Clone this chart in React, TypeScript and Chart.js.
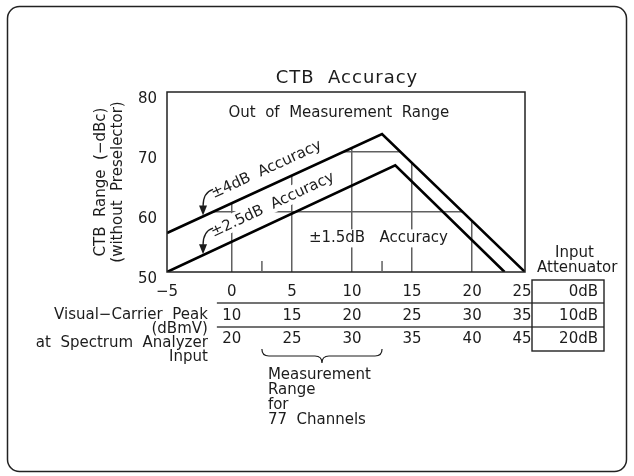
import React, { useEffect, useRef } from "react";
import { Chart, registerables } from "chart.js";

Chart.register(...registerables);

// ---------- data ----------
const xTickValues = [-5, 0, 5, 10, 15, 20, 25];
const rowAtten0dB = ["−5", "0", "5", "10", "15", "20", "25"];
const rowAtten10dB = ["", "10", "15", "20", "25", "30", "35"];
const rowAtten20dB = ["", "20", "25", "30", "35", "40", "45"];
const attenuatorLabels = ["0dB", "10dB", "20dB"];
const yTickValues = [50, 60, 70, 80];
const gridXValues = [0, 5, 10, 15, 20];
const gridYValues = [60, 70];
const measurementRange = [2.5, 12.5];
const measurementText = ["Measurement", "Range", "for", "77  Channels"];
const leftRowTitle = ["Visual−Carrier  Peak", "(dBmV)", "at  Spectrum  Analyzer", "Input"];

// ±4 dB boundary (outer envelope) and ±2.5 dB boundary
const upperX = [-5.4, 12.5, 24.4];
const upperY = [56.5, 73, 50];
const lowerX = [-5.4, 13.6, 22.7];
const lowerY = [50, 67.8, 50];

const X_MIN = -5.4;
const X_MAX = 24.4;

const FONT = '"DejaVu Sans", sans-serif';
const TEXT = "#1c1c1c";
const GRID = "#606060";
const LINE = "#000000";

function lineYAt(xs: number[], ys: number[], x: number) {
  for (let i = 0; i < xs.length - 1; i++) {
    if (x >= xs[i] && x <= xs[i + 1]) {
      const t = (x - xs[i]) / (xs[i + 1] - xs[i]);
      return ys[i] + t * (ys[i + 1] - ys[i]);
    }
  }
  return ys[ys.length - 1];
}

function labelAlongLine(chart: any, text: string, xs: number[], ys: number[], startX: number, gap: number) {
  const { ctx, scales } = chart;
  const sx = scales.x, sy = scales.y;
  const px0 = sx.getPixelForValue(xs[0]), py0 = sy.getPixelForValue(ys[0]);
  const px1 = sx.getPixelForValue(xs[1]), py1 = sy.getPixelForValue(ys[1]);
  const ang = Math.atan2(py1 - py0, px1 - px0);
  const bx = sx.getPixelForValue(startX);
  const by = sy.getPixelForValue(lineYAt(xs, ys, startX));
  const ox = bx + Math.sin(ang) * gap;
  const oy = by - Math.cos(ang) * gap;
  ctx.save();
  ctx.translate(ox, oy);
  ctx.rotate(ang);
  ctx.font = `15px ${FONT}`;
  const m = ctx.measureText(text);
  ctx.fillStyle = "#fff";
  ctx.fillRect(-2, -m.actualBoundingBoxAscent - 2, m.width + 4, m.actualBoundingBoxAscent + m.actualBoundingBoxDescent + 3);
  ctx.fillStyle = TEXT;
  ctx.textAlign = "left";
  ctx.textBaseline = "alphabetic";
  ctx.fillText(text, 0, 0);
  ctx.restore();
}

function arrowTo(chart: any, xs: number[], ys: number[], atX: number) {
  const { ctx, scales } = chart;
  const tx = scales.x.getPixelForValue(atX);
  const ty = scales.y.getPixelForValue(lineYAt(xs, ys, atX));
  ctx.save();
  ctx.strokeStyle = TEXT;
  ctx.lineWidth = 1.3;
  ctx.beginPath();
  ctx.moveTo(tx + 10, ty - 27);
  ctx.quadraticCurveTo(tx, ty - 24, tx, ty - 10);
  ctx.stroke();
  ctx.fillStyle = TEXT;
  ctx.beginPath();
  ctx.moveTo(tx - 4, ty - 11);
  ctx.lineTo(tx + 4, ty - 11);
  ctx.lineTo(tx, ty - 1);
  ctx.closePath();
  ctx.fill();
  ctx.restore();
}

function text(ctx: any, s: string, x: number, y: number, align: CanvasTextAlign = "left", size = 15, bg = false) {
  ctx.save();
  ctx.font = `${size}px ${FONT}`;
  ctx.textAlign = align;
  ctx.textBaseline = "middle";
  if (bg) {
    const m = ctx.measureText(s);
    const w = m.width;
    const left = align === "center" ? x - w / 2 : align === "right" ? x - w : x;
    ctx.fillStyle = "#fff";
    ctx.fillRect(left - 2, y - size * 0.6, w + 4, size * 1.2);
  }
  ctx.fillStyle = TEXT;
  ctx.fillText(s, x, y);
  ctx.restore();
}

const decorPlugin = {
  id: "ctbDecor",
  beforeDraw(chart: any) {
    const { ctx } = chart;
    ctx.save();
    ctx.strokeStyle = "#222";
    ctx.lineWidth = 1.5;
    ctx.beginPath();
    ctx.roundRect(7.5, 6.5, 619, 465, 12);
    ctx.stroke();
    ctx.restore();
  },
  beforeDatasetsDraw(chart: any) {
    const { ctx, scales } = chart;
    labelAlongLine(chart, "±4dB  Accuracy", upperX, upperY, -1.1, 12);
    labelAlongLine(chart, "±2.5dB  Accuracy", lowerX, lowerY, -1.1, 12);
    text(ctx, "±1.5dB   Accuracy", scales.x.getPixelForValue(12.2), scales.y.getPixelForValue(55.6), "center", 15, true);
  },
  afterDatasetsDraw(chart: any) {
    const { ctx, chartArea, scales } = chart;
    const sx = scales.x, sy = scales.y;
    const { left, right, top, bottom } = chartArea;

    // plot frame
    ctx.save();
    ctx.strokeStyle = "#222";
    ctx.lineWidth = 1.5;
    ctx.strokeRect(left, top, right - left, bottom - top);
    // short ticks marking measurement range
    ctx.strokeStyle = GRID;
    ctx.lineWidth = 1.5;
    measurementRange.forEach((v) => {
      const px = sx.getPixelForValue(v);
      ctx.beginPath();
      ctx.moveTo(px, bottom);
      ctx.lineTo(px, bottom - 11);
      ctx.stroke();
    });
    ctx.restore();

    arrowTo(chart, upperX, upperY, -2.4);
    arrowTo(chart, lowerX, lowerY, -2.4);

    // title and region text
    ctx.save();
    ctx.font = `18px ${FONT}`;
    (ctx as any).letterSpacing = "1px";
    ctx.fillStyle = TEXT;
    ctx.textAlign = "center";
    ctx.textBaseline = "middle";
    ctx.fillText("CTB  Accuracy", (left + right) / 2 + 1, 78);
    ctx.restore();
    text(ctx, "Out  of  Measurement  Range", sx.getPixelForValue(8.9), sy.getPixelForValue(76.5), "center");

    // table of carrier levels
    const rowY = [bottom + 20, bottom + 44, bottom + 67];
    const rows = [rowAtten0dB, rowAtten10dB, rowAtten20dB];
    const last = xTickValues.length - 1;
    rows.forEach((row, r) => {
      row.forEach((lbl, i) => {
        if (!lbl) return;
        const px = i === 0 ? left : i === last ? right - 3 : sx.getPixelForValue(xTickValues[i]);
        text(ctx, lbl, px, rowY[r], "center");
      });
    });
    const boxL = right + 7, boxR = right + 79;
    const boxT = bottom + 8, boxB = bottom + 79;
    const lineStart = sx.getPixelForValue(0) - 15;
    ctx.save();
    ctx.strokeStyle = "#444";
    ctx.lineWidth = 1.4;
    [bottom + 31, bottom + 55].forEach((y) => {
      ctx.beginPath();
      ctx.moveTo(lineStart, y);
      ctx.lineTo(boxR, y);
      ctx.stroke();
    });
    ctx.strokeStyle = "#222";
    ctx.strokeRect(boxL, boxT, boxR - boxL, boxB - boxT);
    ctx.restore();
    attenuatorLabels.forEach((lbl, r) => text(ctx, lbl, boxR - 6, rowY[r], "right"));
    text(ctx, "Input", right + 30, bottom - 19);
    text(ctx, "Attenuator", right + 12, bottom - 4);

    leftRowTitle.forEach((s, i) => text(ctx, s, lineStart - 9, bottom + 43 + i * 14, "right"));

    // brace for measurement range
    const xs = sx.getPixelForValue(measurementRange[0]);
    const xe = sx.getPixelForValue(measurementRange[1]);
    const xm = (xs + xe) / 2;
    const yTop = bottom + 77, yLine = bottom + 84, yTip = bottom + 91;
    ctx.save();
    ctx.strokeStyle = TEXT;
    ctx.lineWidth = 1.2;
    ctx.beginPath();
    ctx.moveTo(xs, yTop);
    ctx.quadraticCurveTo(xs, yLine, xs + 7, yLine);
    ctx.lineTo(xm - 7, yLine);
    ctx.quadraticCurveTo(xm, yLine, xm, yTip);
    ctx.quadraticCurveTo(xm, yLine, xm + 7, yLine);
    ctx.lineTo(xe - 7, yLine);
    ctx.quadraticCurveTo(xe, yLine, xe, yTop);
    ctx.stroke();
    ctx.restore();
    measurementText.forEach((s, i) => text(ctx, s, xs + 6, bottom + 103 + i * 15));
  },
};

export default function App() {
  const ref = useRef<HTMLCanvasElement>(null);
  useEffect(() => {
    const chart = new Chart(ref.current as HTMLCanvasElement, {
      type: "line",
      data: {
        datasets: [
          {
            label: "±4dB limit",
            data: upperX.map((x, i) => ({ x, y: upperY[i] })),
            borderColor: LINE,
            borderWidth: 2.6,
            pointRadius: 0,
            tension: 0,
            fill: "end",
            backgroundColor: "#ffffff",
          },
          {
            label: "±2.5dB limit",
            data: lowerX.map((x, i) => ({ x, y: lowerY[i] })),
            borderColor: LINE,
            borderWidth: 2.6,
            pointRadius: 0,
            tension: 0,
            fill: false,
          },
        ],
      },
      options: {
        animation: false,
        responsive: false,
        devicePixelRatio: 1,
        events: [],
        layout: { padding: { top: 92, right: 109, left: 0, bottom: 0 } },
        plugins: {
          legend: { display: false },
          tooltip: { enabled: false },
          title: { display: false },
          filler: { drawTime: "beforeDatasetsDraw" },
        } as any,
        scales: {
          x: {
            type: "linear",
            min: X_MIN,
            max: X_MAX,
            afterBuildTicks: (scale: any) => {
              scale.ticks = gridXValues.map((v) => ({ value: v }));
            },
            afterFit: (scale: any) => {
              scale.height = 476 - 272;
            },
            ticks: { display: false },
            grid: { color: GRID, lineWidth: 1.5, drawTicks: false },
            border: { display: false },
          },
          y: {
            type: "linear",
            min: 50,
            max: 80,
            afterBuildTicks: (scale: any) => {
              scale.ticks = yTickValues.map((v) => ({ value: v }));
            },
            afterFit: (scale: any) => {
              scale.width = 167;
            },
            ticks: {
              padding: 10,
              labelOffset: 7,
              color: TEXT,
              font: { family: FONT, size: 15 },
              callback: (v: any) => String(v),
            },
            grid: {
              drawTicks: false,
              lineWidth: 1.5,
              color: (c: any) => (gridYValues.includes(c.tick?.value) ? GRID : "rgba(0,0,0,0)"),
            },
            border: { display: false },
            title: {
              display: true,
              text: ["CTB  Range  (−dBc)", "(without  Preselector)"],
              color: TEXT,
              font: { family: FONT, size: 15, lineHeight: 1.1 },
              padding: { top: 93, bottom: 0 },
            },
          },
        },
      },
      plugins: [decorPlugin],
    } as any);
    return () => chart.destroy();
  }, []);
  return (
    <div style={{ position: "fixed", left: 0, top: 0, width: 634, height: 476, background: "#fff" }}>
      <canvas ref={ref} width={634} height={476} style={{ display: "block" }} />
    </div>
  );
}
